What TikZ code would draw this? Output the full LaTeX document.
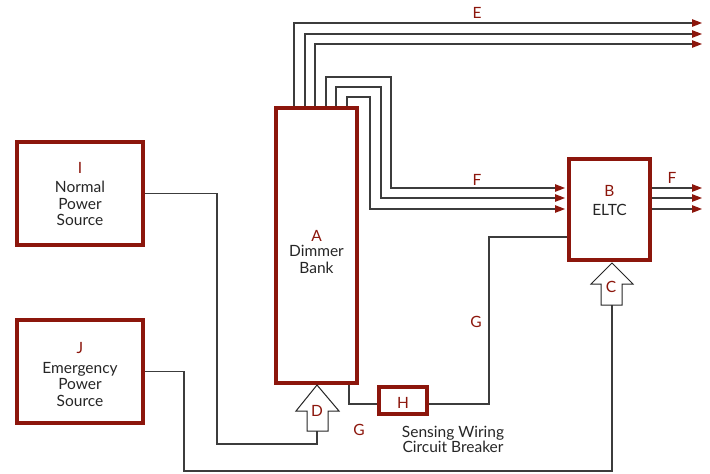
\documentclass[tikz,border=0pt]{standalone}
\usepackage{fontspec}
\setmainfont{Lato}
\usetikzlibrary{arrows.meta,calc,backgrounds}
\definecolor{boxred}{RGB}{140,22,12}
\definecolor{wiregray}{RGB}{60,60,60}
\begin{document}
\begin{tikzpicture}[x=1pt,y=-1pt,
  blk/.style={draw=boxred,line width=4pt,fill=white,inner sep=0pt},
  wire/.style={draw=wiregray,line width=1.3pt},
  arr/.style={wire,-{Triangle[length=10pt,width=7.5pt,color=boxred]}},
  lbl/.style={text=boxred,font=\fontsize{15.5}{16.5}\selectfont,inner sep=0pt,anchor=base},
  txt/.style={text=black!85,font=\fontsize{15.5}{16.5}\selectfont,align=center,inner sep=0pt},
  barrow/.style={draw=black!85,line width=1pt,fill=white}]
\useasboundingbox (0,0) rectangle (710,474);

% boxes
\node[blk,minimum width=126pt,minimum height=103pt] (I) at (80,193.5) {};
\node[blk,minimum width=126pt,minimum height=103pt] (J) at (80,371.5) {};
\node[blk,minimum width=81pt,minimum height=275pt] (A) at (316.5,245.5) {};
\node[blk,minimum width=81pt,minimum height=101pt] (B) at (609.5,209.5) {};
\node[blk,minimum width=48pt,minimum height=27pt] (H) at (403,400.5) {};

% texts
\node[lbl] (Il) at (80,173) {I};
\node[txt] (It) at (80,203.5) {Normal\\Power\\Source};
\node[lbl] (Jl) at (80,353) {J};
\node[txt] (Jt) at (80,384.5) {Emergency\\Power\\Source};
\node[lbl] (Al) at (316.5,241) {A};
\node[txt] (At) at (316.5,259.5) {Dimmer\\Bank};
\node[lbl] (Bl) at (609.5,196) {B};
\node[txt,anchor=base] (Bt) at (609.5,215) {ELTC};
\node[lbl] (Hl) at (403,408) {H};
\node[lbl] (El) at (477,18) {E};
\node[lbl] (Fl1) at (477,185) {F};
\node[lbl] (Fl2) at (672,183) {F};
\node[lbl] (Gl1) at (476,327) {G};
\node[lbl] (Gl2) at (359,435) {G};
\node[txt,anchor=base] (Sw) at (453,437) {Sensing Wiring};
\node[txt,anchor=base] (Cb) at (453,452) {Circuit Breaker};

% free ends
\coordinate (e1) at (702,23);
\coordinate (e2) at (702,34);
\coordinate (e3) at (702,44);
\coordinate (f1) at (702,188);
\coordinate (f2) at (702,198);
\coordinate (f3) at (702,209);
\coordinate (Dbot) at (317,431);
\coordinate (Cbot) at (612,305);

\begin{scope}[on background layer]
  % E
  \draw[arr] ($(A.north west)+(20,0)$) |- (e1);
  \draw[arr] ($(A.north west)+(31,0)$) |- (e2);
  \draw[arr] ($(A.north west)+(41,0)$) |- (e3);
  % F into B
  \draw[arr] ($(A.north west)+(52,0)$) |- (391,77) |- ($(B.west)+(-2,-21.5)$);
  \draw[arr] ($(A.north west)+(62,0)$) |- (381,87) |- ($(B.west)+(-2,-11.5)$);
  \draw[arr] ($(A.north west)+(73,0)$) |- (370,97) |- ($(B.west)+(-2,-0.5)$);
  % F out of B
  \draw[arr] ($(B.east)+(0,-21.5)$) -- (f1);
  \draw[arr] ($(B.east)+(0,-11.5)$) -- (f2);
  \draw[arr] ($(B.east)+(0,-0.5)$) -- (f3);
  % G sensing
  \draw[wire] ($(B.west)+(0,27.5)$) -| (489,300) |- ($(H.east)+(0,3.5)$);
  \draw[wire] ($(H.west)+(0,3.5)$) -| ($(A.south west)+(75,0)$);
  % normal power to D
  \draw[wire] (I.east) -| (217,444) -| (Dbot);
  % emergency power to C
  \draw[wire] (Cbot) |- (184,471) |- (J.east);
\end{scope}

% block arrows
\draw[barrow] (317,385) -- (339,411) -- (328,411) -- (328,431) -- (307,431) -- (307,411) -- (296,411) -- cycle;
\node[lbl] (Dl) at (317,416) {D};
\draw[barrow] (612,263) -- (633,284) -- (622,284) -- (622,305) -- (601,305) -- (601,284) -- (591,284) -- cycle;
\node[lbl] (Cl) at (611,292) {C};
\end{tikzpicture}
\end{document}
